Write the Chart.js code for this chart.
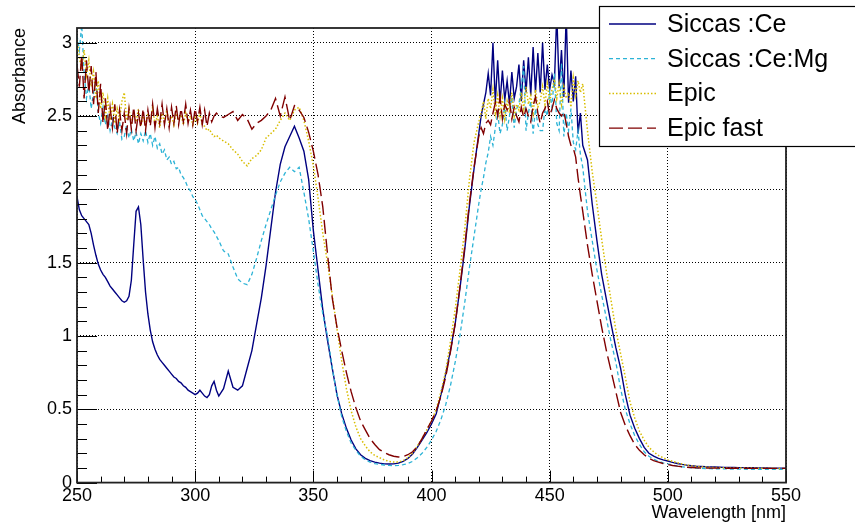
<!DOCTYPE html>
<html>
<head>
<meta charset="utf-8">
<title>Absorbance</title>
<script src="https://cdn.jsdelivr.net/npm/chart.js@4/dist/chart.umd.min.js"></script>
<style>
  html, body { margin: 0; padding: 0; background: #fff; }
  #wrap { width: 855px; height: 527px; }
</style>
</head>
<body>
<div id="wrap"><canvas id="absChart" width="855" height="527"></canvas></div>
<script>
// Wavelength sampling [nm]: 1 nm where the spectra are noisy, 2 nm elsewhere
const wavelength = [
  250,251,252,253,254,255,256,257,258,259,260,261,262,263,264,265,266,267,268,269,
  270,271,272,273,274,275,276,277,278,279,280,281,282,283,284,285,286,287,288,289,
  290,291,292,293,294,295,296,297,298,299,300,301,302,303,304,305,306,307,308,309,310,
  312,314,316,318,320,322,324,326,328,330,332,334,336,338,340,342,344,346,348,350,
  352,354,356,358,360,362,364,366,368,370,372,374,376,378,380,382,384,386,388,390,
  392,394,396,398,400,402,404,406,408,410,412,414,416,418,420,
  421,422,423,424,425,426,427,428,429,430,431,432,433,434,435,436,437,438,439,440,
  441,442,443,444,445,446,447,448,449,450,451,452,453,454,455,456,457,458,459,460,
  461,462,463,464,
  466,468,470,472,474,476,478,480,482,484,486,488,490,492,494,496,498,500,502,504,
  506,508,510,512,514,516,518,520,522,524,526,528,530,532,534,536,538,540,542,544,
  546,548,550
];

const siccasCe = [
  1.95,1.86,1.82,1.80,1.78,1.76,1.70,1.62,1.55,1.49,1.45,1.42,1.40,1.37,1.34,1.32,1.30,1.28,1.26,1.24,
  1.23,1.24,1.27,1.38,1.62,1.85,1.88,1.76,1.52,1.30,1.15,1.04,0.96,0.91,0.87,0.84,0.82,0.80,0.78,0.76,
  0.74,0.72,0.71,0.69,0.68,0.66,0.65,0.63,0.62,0.61,0.60,0.61,0.63,0.61,0.59,0.58,0.60,0.66,0.69,0.63,0.59,
  0.64,0.76,0.65,0.63,0.66,0.78,0.90,1.08,1.26,1.48,1.73,1.98,2.17,2.29,2.36,2.43,2.35,2.26,2.07,1.72,
  1.45,1.18,0.97,0.78,0.60,0.47,0.37,0.29,0.23,0.19,0.165,0.15,0.14,0.133,0.128,0.127,0.128,0.133,0.145,0.165,
  0.195,0.24,0.29,0.34,0.40,0.47,0.60,0.74,0.90,1.08,1.32,1.58,1.88,2.14,2.38,
  2.50,2.58,2.66,2.79,2.64,3.00,2.59,2.88,2.59,2.81,2.61,2.74,2.58,2.80,2.62,2.70,2.85,2.60,2.88,2.66,
  2.90,2.64,2.97,2.66,2.93,2.66,3.00,2.68,2.85,2.68,2.78,2.72,3.20,2.70,2.95,2.63,3.20,2.59,2.81,2.60,
  2.77,2.38,2.52,2.30,
  2.20,1.90,1.65,1.42,1.25,1.08,0.92,0.78,0.60,0.46,0.37,0.30,0.24,0.20,0.18,0.165,0.155,0.147,0.138,0.13,
  0.124,0.119,0.115,0.112,0.11,0.108,0.107,0.106,0.105,0.104,0.103,0.103,0.102,0.102,0.101,0.101,0.1,0.1,0.1,0.099,
  0.099,0.099,0.098
];

const siccasCeMg = [
  3.05,2.95,3.12,2.80,2.62,2.72,2.55,2.66,2.74,2.52,2.45,2.56,2.44,2.50,2.40,2.48,2.42,2.38,2.46,2.34,
  2.36,2.44,2.35,2.41,2.33,2.39,2.31,2.38,2.33,2.40,2.32,2.38,2.30,2.36,2.28,2.31,2.24,2.27,2.20,2.22,
  2.17,2.19,2.14,2.15,2.10,2.08,2.05,2.01,1.99,1.95,1.93,1.90,1.86,1.82,1.80,1.78,1.76,1.73,1.71,1.68,1.65,
  1.58,1.56,1.47,1.39,1.36,1.35,1.42,1.53,1.65,1.76,1.86,1.96,2.05,2.11,2.15,2.12,2.15,1.98,1.80,1.58,
  1.35,1.15,1.00,0.78,0.60,0.45,0.35,0.27,0.22,0.18,0.155,0.14,0.13,0.125,0.12,0.117,0.115,0.117,0.122,0.13,
  0.145,0.17,0.20,0.24,0.29,0.35,0.43,0.53,0.66,0.82,1.00,1.22,1.46,1.68,1.90,
  2.00,2.08,2.18,2.25,2.36,2.30,2.42,2.52,2.38,2.44,2.58,2.40,2.50,2.63,2.42,2.55,2.58,2.70,2.84,2.40,
  2.52,2.60,2.38,2.55,2.44,2.40,2.40,2.55,2.50,2.66,2.56,2.79,2.45,2.40,2.86,2.36,2.52,2.40,2.55,2.32,
  2.27,2.40,2.24,2.15,
  1.85,1.65,1.45,1.28,1.12,0.96,0.82,0.64,0.50,0.40,0.32,0.26,0.21,0.18,0.16,0.145,0.135,0.128,0.12,0.113,
  0.108,0.104,0.101,0.099,0.097,0.096,0.095,0.094,0.094,0.093,0.093,0.092,0.092,0.092,0.091,0.091,0.091,0.09,0.09,0.09,
  0.09,0.09,0.09
];

const epic = [
  3.02,2.90,2.82,2.95,2.78,2.88,2.70,2.80,2.62,2.74,2.55,2.66,2.50,2.62,2.47,2.58,2.45,2.55,2.48,2.60,
  2.66,2.47,2.55,2.44,2.52,2.46,2.55,2.43,2.50,2.44,2.52,2.45,2.56,2.44,2.50,2.42,2.52,2.46,2.54,2.45,
  2.50,2.44,2.53,2.47,2.51,2.44,2.52,2.46,2.50,2.44,2.49,2.45,2.52,2.44,2.43,2.40,2.41,2.38,2.36,2.37,2.35,
  2.33,2.31,2.27,2.24,2.19,2.16,2.21,2.23,2.27,2.35,2.38,2.41,2.47,2.52,2.47,2.54,2.56,2.47,2.33,2.16,
  1.94,1.70,1.50,1.28,1.05,0.83,0.64,0.49,0.38,0.30,0.25,0.21,0.185,0.17,0.155,0.145,0.14,0.14,0.15,0.17,
  0.20,0.25,0.30,0.36,0.42,0.50,0.62,0.76,0.96,1.18,1.44,1.72,2.06,2.32,2.46,
  2.52,2.60,2.48,2.62,2.55,2.68,2.52,2.64,2.50,2.62,2.48,2.60,2.52,2.66,2.50,2.58,2.54,2.66,2.55,2.70,
  2.58,2.64,2.52,2.68,2.56,2.60,2.70,2.58,2.72,2.60,2.68,2.75,2.62,2.72,2.58,2.70,2.62,2.66,2.56,2.76,
  2.64,2.74,2.66,2.72,
  2.40,2.12,1.90,1.66,1.44,1.24,1.04,0.88,0.72,0.55,0.44,0.35,0.29,0.24,0.21,0.185,0.17,0.155,0.145,0.135,
  0.127,0.12,0.115,0.111,0.108,0.106,0.104,0.103,0.102,0.101,0.1,0.1,0.1,0.099,0.099,0.099,0.098,0.098,0.098,0.098,
  0.097,0.097,0.097
];

const epicFast = [
  2.85,2.70,2.92,2.62,2.88,2.66,2.84,2.58,2.80,2.52,2.72,2.45,2.62,2.40,2.56,2.42,2.58,2.38,2.54,2.40,
  2.52,2.38,2.55,2.41,2.56,2.40,2.52,2.42,2.55,2.40,2.54,2.43,2.58,2.42,2.55,2.45,2.58,2.44,2.55,2.42,
  2.56,2.45,2.57,2.44,2.55,2.46,2.58,2.45,2.54,2.44,2.55,2.46,2.56,2.44,2.54,2.43,2.52,2.46,2.50,2.52,2.50,
  2.49,2.51,2.53,2.47,2.51,2.48,2.41,2.45,2.47,2.50,2.54,2.62,2.50,2.63,2.47,2.57,2.54,2.49,2.39,2.26,
  2.10,1.88,1.56,1.26,1.06,0.90,0.75,0.62,0.51,0.42,0.36,0.30,0.26,0.225,0.205,0.19,0.18,0.175,0.178,0.19,
  0.21,0.245,0.30,0.36,0.42,0.49,0.59,0.72,0.89,1.08,1.33,1.60,1.90,2.15,2.36,
  2.42,2.38,2.45,2.47,2.44,2.52,2.59,2.50,2.63,2.48,2.58,2.54,2.60,2.48,2.56,2.50,2.46,2.56,2.49,2.55,
  2.50,2.46,2.57,2.63,2.52,2.45,2.52,2.55,2.60,2.50,2.55,2.61,2.55,2.52,2.50,2.53,2.45,2.36,2.30,2.28,
  2.22,2.08,1.96,1.85,
  1.62,1.42,1.24,1.06,0.90,0.76,0.62,0.48,0.39,0.32,0.26,0.22,0.19,0.165,0.15,0.14,0.13,0.123,0.117,0.112,
  0.108,0.105,0.103,0.101,0.1,0.1,0.099,0.099,0.099,0.098,0.098,0.098,0.098,0.098,0.097,0.097,0.097,0.097,0.097,0.097,
  0.097,0.097,0.097
];

const seriesLabels = ['Siccas :Ce', 'Siccas :Ce:Mg', 'Epic', 'Epic fast'];

const FONT = '"Liberation Sans", Arial, Helvetica, sans-serif';
Chart.defaults.font.family = FONT;
Chart.defaults.color = '#000';

function toPoints(values) {
    return wavelength.map((w, i) => ({ x: w, y: values[i] }));
}

// ROOT-like frame with ticks pointing into the pad
const rootFrame = {
    id: 'rootFrame',
    afterDatasetsDraw(chart) {
        const { ctx, chartArea: a, scales: { x, y } } = chart;
        ctx.save();
        ctx.strokeStyle = '#000';
        ctx.lineWidth = 1;
        ctx.beginPath();
        for (let k = 0; k <= 30; k++) {
            const py = Math.round(y.getPixelForValue(k / 10)) + 0.5;
            const len = k % 5 === 0 ? 20 : 10;
            ctx.moveTo(a.left, py);
            ctx.lineTo(a.left + len, py);
        }
        for (let w = 250; w <= 550; w += 10) {
            const px = Math.round(x.getPixelForValue(w)) + 0.5;
            const len = w % 50 === 0 ? 12 : 6;
            ctx.moveTo(px, a.bottom);
            ctx.lineTo(px, a.bottom - len);
        }
        ctx.stroke();
        ctx.lineWidth = 1.8;
        ctx.strokeStyle = '#222';
        ctx.strokeRect(a.left, a.top, a.right - a.left, a.bottom - a.top);
        ctx.restore();
    }
};

// Boxed legend in the top right corner
const boxLegend = {
    id: 'boxLegend',
    afterDraw(chart) {
        const ctx = chart.ctx;
        ctx.save();
        ctx.fillStyle = '#fff';
        ctx.fillRect(599.5, 6.5, 270, 140);
        ctx.strokeStyle = '#000';
        ctx.lineWidth = 1.2;
        ctx.strokeRect(599.5, 6.5, 270, 140);
        chart.data.datasets.forEach((ds, i) => {
            const yy = 24 + i * 34.7;
            ctx.strokeStyle = ds.borderColor;
            ctx.lineWidth = ds.borderWidth;
            ctx.setLineDash(ds.borderDash || []);
            ctx.beginPath();
            ctx.moveTo(609, yy);
            ctx.lineTo(656, yy);
            ctx.stroke();
            ctx.setLineDash([]);
            ctx.fillStyle = '#000';
            ctx.font = '25px ' + FONT;
            ctx.textBaseline = 'middle';
            ctx.textAlign = 'left';
            ctx.fillText(ds.label, 667, yy + 1);
        });
        ctx.restore();
    }
};

const ctx = document.getElementById('absChart');

new Chart(ctx, {
    type: 'line',
    data: {
        datasets: [
            {
                label: seriesLabels[0],
                data: toPoints(siccasCe),
                borderColor: '#000080',
                borderWidth: 1.4,
                order: 4
            },
            {
                label: seriesLabels[1],
                data: toPoints(siccasCeMg),
                borderColor: '#2cb3d6',
                borderWidth: 1.3,
                borderDash: [4, 3],
                order: 3
            },
            {
                label: seriesLabels[2],
                data: toPoints(epic),
                borderColor: '#d8bd00',
                borderWidth: 1.5,
                borderDash: [1.5, 2],
                order: 2
            },
            {
                label: seriesLabels[3],
                data: toPoints(epicFast),
                borderColor: '#800000',
                borderWidth: 1.4,
                borderDash: [14, 5],
                order: 1
            }
        ]
    },
    options: {
        responsive: false,
        animation: false,
        devicePixelRatio: 1,
        layout: {
            padding: { top: 28, right: 69, left: 0, bottom: 0 }
        },
        elements: {
            point: { radius: 0 },
            line: { tension: 0, fill: false }
        },
        plugins: {
            legend: { display: false },
            tooltip: { enabled: false }
        },
        scales: {
            x: {
                type: 'linear',
                min: 250,
                max: 550,
                grid: { color: '#000', lineWidth: 1, drawTicks: false },
                border: { display: false, dash: [1, 2] },
                ticks: {
                    stepSize: 50,
                    padding: 3,
                    maxRotation: 0,
                    font: { size: 18 },
                    color: '#000'
                },
                title: {
                    display: true,
                    text: 'Wavelength [nm]',
                    align: 'end',
                    font: { size: 18 },
                    color: '#000',
                    padding: { top: 0, bottom: 3 }
                },
                afterFit(scale) { scale.height = 44.4; }
            },
            y: {
                min: 0,
                max: 3.1,
                grid: { color: '#000', lineWidth: 1, drawTicks: false },
                border: { display: false, dash: [1, 2] },
                ticks: {
                    stepSize: 0.5,
                    includeBounds: false,
                    padding: 5,
                    font: { size: 18 },
                    color: '#000',
                    callback: value => String(Number(value.toFixed(2)))
                },
                afterBuildTicks(scale) {
                    scale.ticks = scale.ticks.filter(t => t.value <= 3.0001);
                },
                title: {
                    display: true,
                    text: 'Absorbance',
                    align: 'end',
                    font: { size: 18 },
                    color: '#000',
                    padding: { top: 9, bottom: 0 }
                },
                afterFit(scale) { scale.width = 77; }
            }
        }
    },
    plugins: [rootFrame, boxLegend]
});
</script>
</body>
</html>
